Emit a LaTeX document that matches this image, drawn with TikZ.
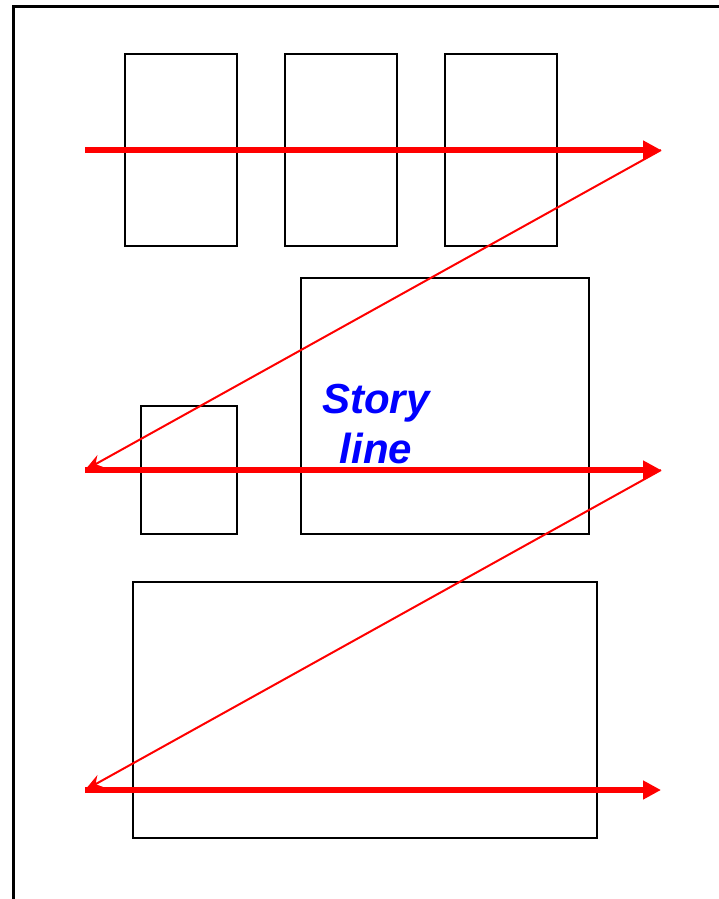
\documentclass[tikz,border=0pt]{standalone}
\usepackage{fontspec}
\setmainfont{Liberation Sans}
\usetikzlibrary{arrows.meta}
\begin{document}
\begin{tikzpicture}[x=1pt,y=-1pt,
  box/.style={draw=black,line width=1.7pt},
  thickarrow/.style={draw=red,line width=5.5pt,-{Triangle[length=18pt,width=18pt]}},
  thinarrow/.style={draw=red,line width=2pt,-{Stealth[length=18pt,width=14pt,inset=6pt]}}]
\useasboundingbox (0,0) rectangle (718,899);
\fill[white] (0,0) rectangle (718,899);
\draw[line width=3.5pt] (13.5,920) -- (13.5,6.5) -- (740,6.5);
% boxes
\draw[box] (125,54) rectangle (237,246);
\draw[box] (285,54) rectangle (397,246);
\draw[box] (445,54) rectangle (557,246);
\draw[box] (301,278) rectangle (589,534);
\draw[box] (141,406) rectangle (237,534);
\draw[box] (133,582) rectangle (597,838);
% coordinates
\coordinate (a1) at (85,150);
\coordinate (b1) at (661,150);
\coordinate (a2) at (85,470);
\coordinate (b2) at (661,470);
\coordinate (a3) at (85,790);
\coordinate (b3) at (661,790);
\draw[thickarrow] (a1) -- (b1);
\draw[thickarrow] (a2) -- (b2);
\draw[thickarrow] (a3) -- (b3);
\draw[thinarrow] (b1) -- (a2);
\draw[thinarrow] (b2) -- (a3);
\node[text=blue,font=\fontsize{42}{50}\selectfont\bfseries\itshape,align=center,anchor=base] (t) at (376,463) {Story\\line};
\end{tikzpicture}
\end{document}
